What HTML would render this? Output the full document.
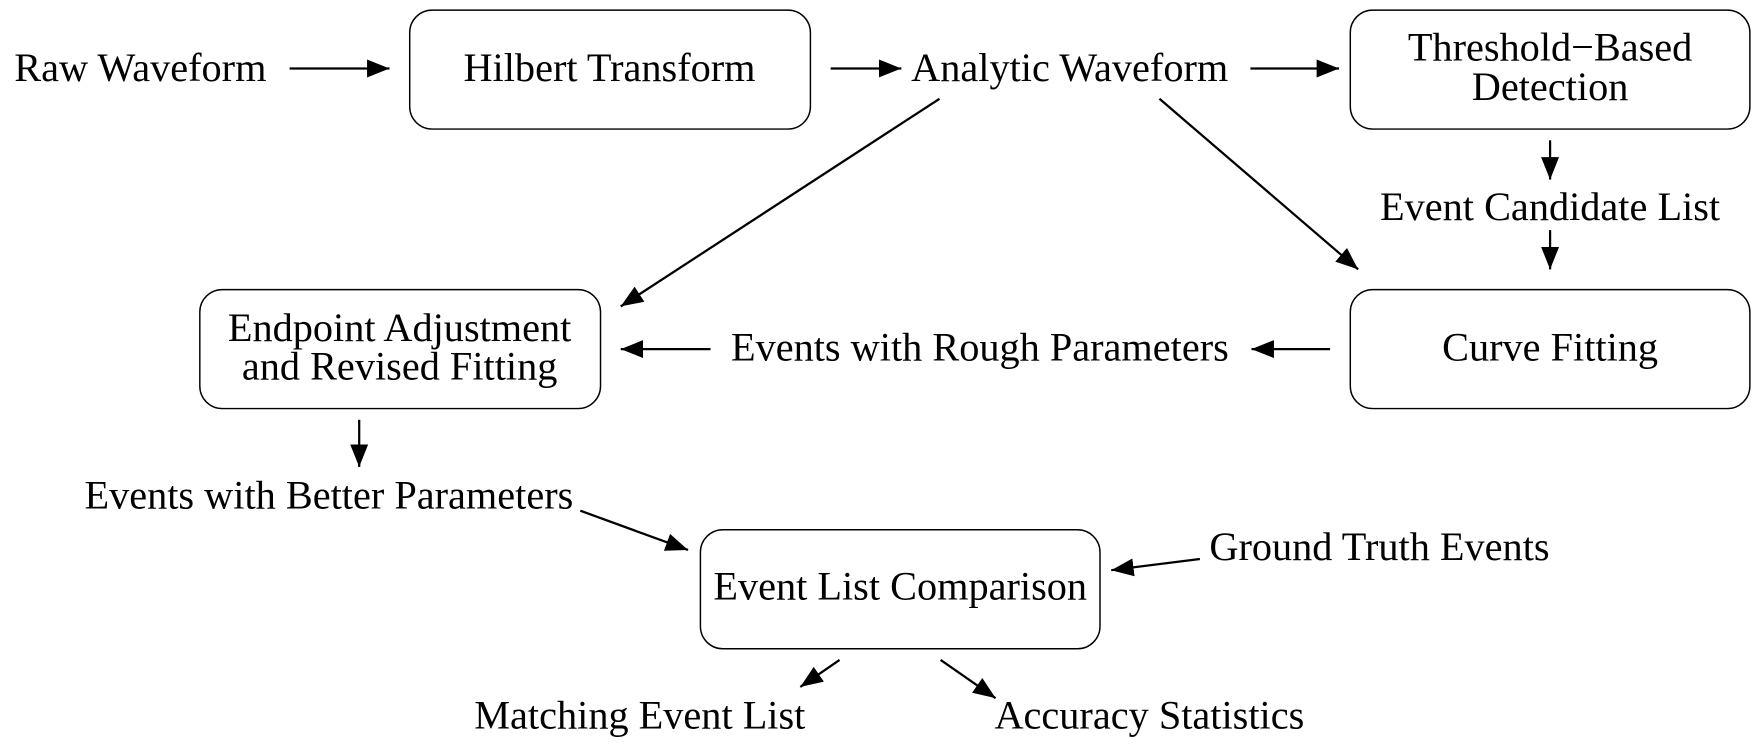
<!DOCTYPE html>
<html><head><meta charset="utf-8"><style>html,body{margin:0;padding:0;background:#fff}svg{display:block}text{font-family:"Liberation Serif",serif;font-size:35.9px;fill:#000}</style></head>
<body>
<svg width="1760" height="750" viewBox="0 0 1568 668.2" xmlns="http://www.w3.org/2000/svg">
<defs><marker id="a" markerUnits="userSpaceOnUse" markerWidth="22" markerHeight="18" refX="20" refY="8" orient="auto"><path d="M0,0 L20,8 L0,16 z" fill="#000"/></marker></defs>
<g fill="none" stroke="#000" stroke-width="1.3">
<rect x="365" y="9" width="357" height="106" rx="20"/>
<rect x="1203" y="9" width="356" height="106" rx="20"/>
<rect x="178" y="258" width="357" height="106" rx="20"/>
<rect x="1203" y="258" width="356" height="106" rx="20"/>
<rect x="624" y="472" width="356" height="106" rx="20"/>
</g>
<g stroke="#000" stroke-width="2" marker-end="url(#a)">
<line x1="258" y1="61" x2="347" y2="61"/>
<line x1="740" y1="61" x2="803" y2="61"/>
<line x1="1114" y1="61" x2="1193" y2="61"/>
<line x1="1381" y1="125" x2="1381" y2="160"/>
<line x1="1381" y1="205" x2="1381" y2="240"/>
<line x1="837" y1="88" x2="553" y2="273"/>
<line x1="1033" y1="88" x2="1210" y2="240"/>
<line x1="1185" y1="311" x2="1115" y2="311"/>
<line x1="633" y1="311" x2="553" y2="311"/>
<line x1="320" y1="374" x2="320" y2="416"/>
<line x1="517" y1="455" x2="613" y2="490"/>
<line x1="1069" y1="498" x2="990" y2="508"/>
<line x1="748" y1="588" x2="713" y2="612"/>
<line x1="838" y1="588" x2="887" y2="622"/>
</g>
<g text-anchor="middle">
<text x="125" y="72">Raw Waveform</text>
<text x="543" y="72">Hilbert Transform</text>
<text x="953" y="72">Analytic Waveform</text>
<text x="1381" y="54">Threshold−Based</text>
<text x="1381" y="89">Detection</text>
<text x="1381" y="196">Event Candidate List</text>
<text x="356" y="304">Endpoint Adjustment</text>
<text x="356" y="338">and Revised Fitting</text>
<text x="873" y="321">Events with Rough Parameters</text>
<text x="1381" y="321">Curve Fitting</text>
<text x="293" y="453">Events with Better Parameters</text>
<text x="1229" y="499">Ground Truth Events</text>
<text x="802" y="534">Event List Comparison</text>
<text x="570" y="649">Matching Event List</text>
<text x="1024" y="649">Accuracy Statistics</text>
</g>
</svg>
</body></html>
